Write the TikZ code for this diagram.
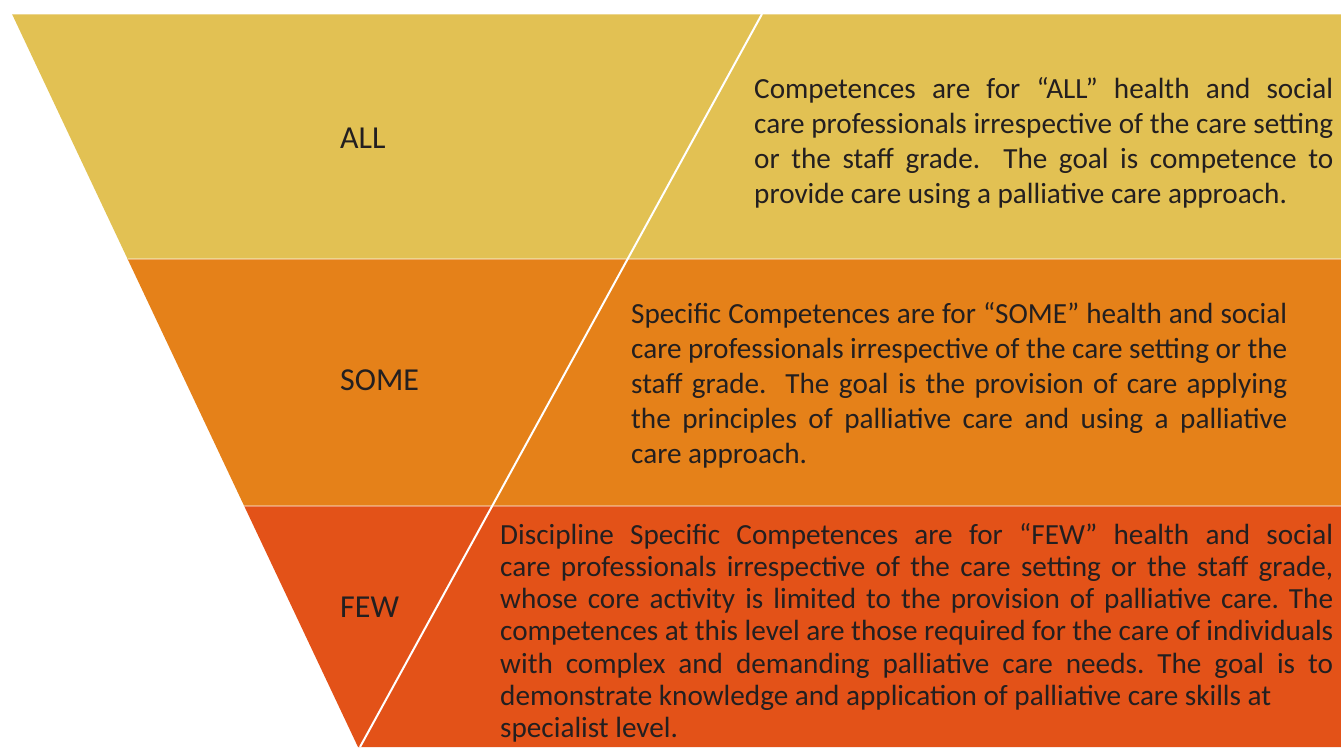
\documentclass[tikz,border=0pt]{standalone}
\usepackage{fontspec}
\setmainfont{Carlito}
\definecolor{cAll}{HTML}{E2C153}
\definecolor{cSome}{HTML}{E58119}
\definecolor{cFew}{HTML}{E35218}
\definecolor{ink}{HTML}{231F20}
\newcommand\jl[1]{\noindent\makebox[\hsize][s]{\strut #1}\par}
\newcommand\rl[1]{\noindent\strut #1\par}
\begin{document}
\frenchspacing
\begin{tikzpicture}[x=1pt,y=-1pt,
  lab/.style={anchor=base west, inner sep=0pt, text=ink, font=\fontsize{32}{38}\selectfont},
  body/.style={anchor=north west, inner sep=0pt, text=ink, align=justify, font=\frenchspacing\fontsize{29.2}{35}\selectfont},
  bodyfew/.style={body, font=\frenchspacing\fontsize{29.2}{32.2}\selectfont},
  sep/.style={white, opacity=0.35, line width=1.2pt},
  diag/.style={white, line width=2pt}]
\useasboundingbox (0,0) rectangle (1341,747);
\fill[white] (0,0) rectangle (1341,747);
% corner coordinates
\coordinate (tl) at (12,14);
\coordinate (tr) at (1341,14);
\coordinate (l1) at (127.6,259);
\coordinate (r1) at (1341,259);
\coordinate (l2) at (244.2,506);
\coordinate (r2) at (1341,506);
\coordinate (bl) at (358,747);
\coordinate (br) at (1341,747);
% bands
\fill[cAll] (tl) -- (tr) -- (r1) -- (l1) -- cycle;
\fill[cSome] (l1) -- (r1) -- (r2) -- (l2) -- cycle;
\fill[cFew] (l2) -- (r2) -- (br) -- (bl) -- cycle;
\draw[sep] (tl) -- (tr);
\draw[sep] (l1) -- (r1);
\draw[sep] (l2) -- (r2);
% diagonal
\coordinate (dtop) at (762,14);
\coordinate (dbot) at (360,747);
\draw[diag] (dtop) -- (dbot);
% labels
\node[lab] (all) at (340,148) {ALL};
\node[lab] (some) at (340,390) {SOME};
\node[lab] (few) at (340,617) {FEW};
% texts
\node[body, text width=579pt] (alltext) at (754,73.5) {%
\jl{Competences are for “ALL” health and social}
\jl{care professionals irrespective of the care setting}
\jl{or the staff grade.\ \ The goal is competence to}
\rl{provide care using a palliative care approach.}};
\node[body, text width=656pt] (sometext) at (631,298.5) {%
\jl{Specific Competences are for “SOME” health and social}
\jl{care professionals irrespective of the care setting or the}
\jl{staff grade.\ \ The goal is the provision of care applying}
\jl{the principles of palliative care and using a palliative}
\rl{care approach.}};
\node[bodyfew, text width=833pt] (fewtext) at (500,521.6) {%
\jl{Discipline Specific Competences are for “FEW” health and social}
\jl{care professionals irrespective of the care setting or the staff grade,}
\jl{whose core activity is limited to the provision of palliative care. The}
\jl{competences at this level are those required for the care of individuals}
\jl{with complex and demanding palliative care needs. The goal is to}
\rl{demonstrate knowledge and application of palliative care skills at}
\rl{specialist level.}};
\end{tikzpicture}
\end{document}
